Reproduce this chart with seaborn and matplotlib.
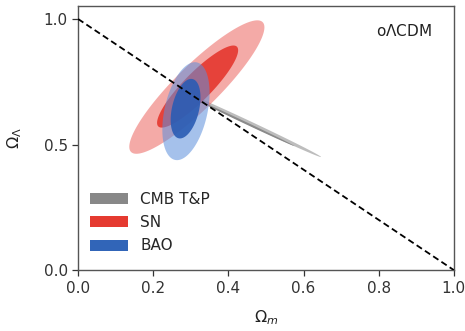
import numpy as np
import pandas as pd
import matplotlib
matplotlib.use("Agg")
import matplotlib.pyplot as plt
from matplotlib.patches import Patch
import seaborn as sns

# constraint ellipses:
# centre (Om, OL), semi-major / semi-minor (in Om units), screen angle (deg)
probes = ["CMB T&P", "SN", "BAO"]
probe_colors = ["#888888", "#e53a30", "#3165b8"]

cmb_center = [(0.472, 0.574), (0.44, 0.59)]
cmb_axes = [(0.193, 0.0055), (0.15, 0.0028)]
cmb_angle = [-25.3, -25.3]

sn_center = [(0.316, 0.729), (0.318, 0.731)]
sn_axes = [(0.246, 0.058), (0.149, 0.037)]
sn_angle = [44.6, 45.4]

bao_center = [(0.287, 0.633), (0.286, 0.643)]
bao_axes = [(0.133, 0.057), (0.081, 0.036)]
bao_angle = [77.3, 76.7]

flat_om = [0.0, 1.0]
flat_ol = [1.0, 0.0]

sns.set_style("ticks")
plt.rcParams["font.family"] = ["DejaVu Sans"]
plt.rcParams["mathtext.fontset"] = "dejavusans"

fig = plt.figure(figsize=(4.65, 3.31), dpi=100)
ax = fig.add_axes([0.168, 0.184, 0.808, 0.798])

# screen px per x unit / px per y unit
yscale = (0.808 * 4.65) / ((0.798 * 3.31) / 1.052)


def ellipse(c, ab, ang, n=200):
    t = np.linspace(0, 2 * np.pi, n)
    a, b = ab
    th = np.deg2rad(ang)
    u = a * np.cos(t)
    v = b * np.sin(t)
    dx = u * np.cos(th) - v * np.sin(th)
    dy = (u * np.sin(th) + v * np.cos(th)) * yscale
    return c[0] + dx, c[1] + dy


# CMB: faint grey sliver with a darker core
x, y = ellipse(cmb_center[0], cmb_axes[0], cmb_angle[0])
ax.fill(x, y, color="#bdbdbd", lw=0, zorder=1)
x, y = ellipse(cmb_center[1], cmb_axes[1], cmb_angle[1])
ax.fill(x, y, color="#8a8a8a", lw=0, zorder=1.1)

# SN
x, y = ellipse(sn_center[0], sn_axes[0], sn_angle[0])
ax.fill(x, y, color="#ec6560", alpha=0.55, lw=0, zorder=2)
x, y = ellipse(sn_center[1], sn_axes[1], sn_angle[1])
ax.fill(x, y, color="#e5372e", alpha=0.9, lw=0, zorder=2.1)

# BAO
x, y = ellipse(bao_center[0], bao_axes[0], bao_angle[0])
ax.fill(x, y, color="#5c8fdc", alpha=0.55, lw=0, zorder=3)
x, y = ellipse(bao_center[1], bao_axes[1], bao_angle[1])
ax.fill(x, y, color="#2a5cb4", alpha=0.9, lw=0, zorder=3.1)

# flat universe line
flat = pd.DataFrame({"Om": flat_om, "OL": flat_ol})
sns.lineplot(data=flat, x="Om", y="OL", ax=ax, color="black", lw=1.3,
             dashes=False, zorder=5)
ax.lines[-1].set_dashes((3.5, 2))

ax.set_xlim(0, 1)
ax.set_ylim(0, 1.052)
ax.set_xticks([0, 0.2, 0.4, 0.6, 0.8, 1.0])
ax.set_yticks([0, 0.5, 1.0])
ax.set_xlabel(r"$\Omega_m$", fontsize=11.5, color="#222222", labelpad=9)
ax.set_ylabel(r"$\Omega_\Lambda$", fontsize=11.5, color="#222222", labelpad=14)
ax.tick_params(labelsize=11, colors="#333333", length=4, width=0.9)
for s in ax.spines.values():
    s.set_color("#555555")
    s.set_linewidth(1.0)

ax.text(0.94, 0.905, r"o$\Lambda$CDM", transform=ax.transAxes, ha="right",
        va="center", fontsize=11, color="#222222")

handles = [Patch(facecolor=c, edgecolor="none") for c in probe_colors]
ax.legend(handles, probes, loc="upper left", bbox_to_anchor=(0.015, 0.32),
          frameon=False, fontsize=11, handlelength=2.5, handleheight=0.75,
          labelspacing=0.55, handletextpad=0.8, borderaxespad=0)

fig.savefig("out.png", dpi=100)
